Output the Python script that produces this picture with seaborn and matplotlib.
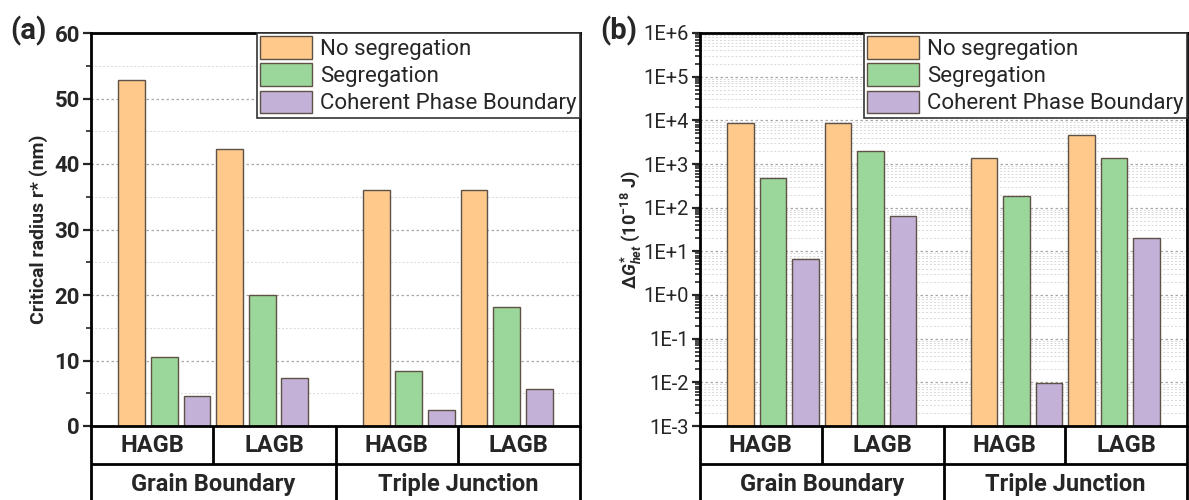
import numpy as np
import pandas as pd
import matplotlib
matplotlib.use("Agg")
import matplotlib.pyplot as plt
import seaborn as sns
from matplotlib.transforms import blended_transform_factory
from matplotlib.ticker import MultipleLocator, LogLocator, NullFormatter, FixedLocator
from matplotlib.lines import Line2D

# ---------------- data ----------------
sites = ["Grain Boundary", "Grain Boundary", "Triple Junction", "Triple Junction"]
boundaries = ["HAGB", "LAGB", "HAGB", "LAGB"]
series = ["No segregation", "Segregation", "Coherent Phase Boundary"]

radius_no_seg = [52.8, 42.3, 36.1, 36.1]
radius_seg = [10.5, 20.0, 8.4, 18.2]
radius_cpb = [4.6, 7.3, 2.4, 5.6]

dg_no_seg = [8900, 8500, 1370, 4500]
dg_seg = [480, 2020, 185, 1390]
dg_cpb = [6.8, 65, 0.0095, 20.7]

log_ticks = [1e-3, 1e-2, 1e-1, 1e0, 1e1, 1e2, 1e3, 1e4, 1e5, 1e6]
log_tick_labels = ["1E-3", "1E-2", "1E-1", "1E+0", "1E+1", "1E+2", "1E+3", "1E+4", "1E+5", "1E+6"]

colors = ["#FFC98C", "#9BD69B", "#C3B1D8"]
edge = "#5e5246"

# ---------------- style ----------------
sns.set_style("ticks")
plt.rcParams["font.family"] = ["Roboto", "DejaVu Sans"]
plt.rcParams["mathtext.fontset"] = "custom"
plt.rcParams["mathtext.rm"] = "Roboto:bold"
plt.rcParams["mathtext.it"] = "Roboto:italic:bold"
plt.rcParams["mathtext.bf"] = "Roboto:bold"

# group positions: a wider gap between the two site types
site_order = list(dict.fromkeys(sites))
pos = [i + 0.5 * site_order.index(s) for i, s in enumerate(sites)]
XL = (pos[0] - 0.75, pos[-1] + 0.75)


def long_df(vals):
    rows = []
    for name, v in zip(series, vals):
        for p, y in zip(pos, v):
            rows.append({"pos": p, "series": name, "value": y})
    return pd.DataFrame(rows)


def draw_table(ax):
    trans = blended_transform_factory(ax.transData, ax.transAxes)
    r1, r2 = -0.097, -0.21
    kw = dict(color="black", lw=2.0, clip_on=False, solid_capstyle="butt")
    for xa in (0, 1):
        ax.add_line(Line2D([xa, xa], [0, r2], transform=ax.transAxes, **kw))
    ax.add_line(Line2D([0, 1], [r1, r1], transform=ax.transAxes, **kw))
    for a, b in zip(pos[:-1], pos[1:]):
        m = (a + b) / 2
        ax.add_line(Line2D([m, m], [0, r1], transform=trans, **kw))
    for i in range(len(sites) - 1):
        if sites[i] != sites[i + 1]:
            m = (pos[i] + pos[i + 1]) / 2
            ax.add_line(Line2D([m, m], [r1, r2], transform=trans, **kw))
    edges = [XL[0]] + [(a + b) / 2 for a, b in zip(pos[:-1], pos[1:])] + [XL[1]]
    for i, b in enumerate(boundaries):
        ax.text((edges[i] + edges[i + 1]) / 2, r1 / 2, b, transform=trans,
                ha="center", va="center", fontsize=17, fontweight="bold")
    for s in site_order:
        idx = [i for i, ss in enumerate(sites) if ss == s]
        xc = (edges[idx[0]] + edges[idx[-1] + 1]) / 2
        ax.text(xc, (r1 + r2) / 2 + 0.005, s, transform=trans, ha="center", va="center",
                fontsize=17, fontweight="bold")


def draw_panel(ax, vals, log):
    df = long_df(vals)
    sns.barplot(data=df, x="pos", y="value", hue="series", hue_order=series,
                palette=colors, saturation=1, native_scale=True, width=1.0, gap=0.18,
                edgecolor=edge, linewidth=1.0, errorbar=None, ax=ax, legend=True)
    leg = ax.get_legend()
    handles = leg.legend_handles
    labels = [t.get_text() for t in leg.get_texts()]
    leg.remove()
    ax.set_xlim(*XL)
    ax.set_xticks([])
    ax.set_xlabel("")
    if log:
        ax.set_yscale("log")
        ax.set_ylim(log_ticks[0], log_ticks[-1])
        ax.yaxis.set_major_locator(FixedLocator(log_ticks))
        ax.set_yticklabels(log_tick_labels)
        ax.yaxis.set_minor_locator(LogLocator(base=10, subs=np.arange(2, 10), numticks=100))
        ax.yaxis.set_minor_formatter(NullFormatter())
        for t in ax.get_yticklabels():
            t.set_fontsize(14.5)
    else:
        ax.set_ylim(0, 60)
        ax.yaxis.set_major_locator(MultipleLocator(10))
        ax.yaxis.set_minor_locator(MultipleLocator(5))
        for t in ax.get_yticklabels():
            t.set_fontsize(16)
            t.set_fontweight("bold")
    ax.set_axisbelow(True)
    ax.grid(True, which="major", axis="y", color="#a8a8a8", linestyle=(0, (2, 2)), lw=0.9)
    ax.grid(True, which="minor", axis="y", color="#d8d8d8", linestyle=(0, (2, 2)), lw=0.7)
    for sp in ax.spines.values():
        sp.set_visible(True)
        sp.set_linewidth(2.0)
        sp.set_color("black")
    ax.tick_params(axis="y", which="major", direction="out", length=6, width=1.6, pad=2, right=False)
    ax.tick_params(axis="y", which="minor", direction="out", length=3.5, width=1.2, right=False)
    ax.tick_params(axis="x", which="both", bottom=False, top=False, labelbottom=False)
    lg = ax.legend(handles, labels, loc="upper right", borderaxespad=0, fontsize=16,
                   handlelength=2.35, handleheight=1.18, labelspacing=0.15,
                   borderpad=0.15, handletextpad=0.35, fancybox=False, framealpha=1,
                   edgecolor="#333333")
    lg.get_frame().set_linewidth(1.2)
    draw_table(ax)


fig = plt.figure(figsize=(11.89, 5.0), dpi=100)
axa = fig.add_axes([91 / 1189, 74 / 500, 489 / 1189, 393 / 500])
axb = fig.add_axes([700 / 1189, 74 / 500, 487 / 1189, 393 / 500])

draw_panel(axa, [radius_no_seg, radius_seg, radius_cpb], log=False)
draw_panel(axb, [dg_no_seg, dg_seg, dg_cpb], log=True)

axa.set_ylabel("Critical radius r* (nm)", fontsize=14, fontweight="bold")
axa.yaxis.set_label_coords(-0.088, 0.5)
axb.set_ylabel(r"$\Delta G^{*}_{het}$ (10$^{-18}$ J)", fontsize=13, fontweight="bold")
axb.yaxis.set_label_coords(-0.115, 0.5)

fig.text(10 / 1189, 1 - 31 / 500, "(a)", fontsize=21, fontweight="bold", ha="left", va="center")
fig.text(600 / 1189, 1 - 31 / 500, "(b)", fontsize=21, fontweight="bold", ha="left", va="center")

fig.savefig("out.png", dpi=100)
